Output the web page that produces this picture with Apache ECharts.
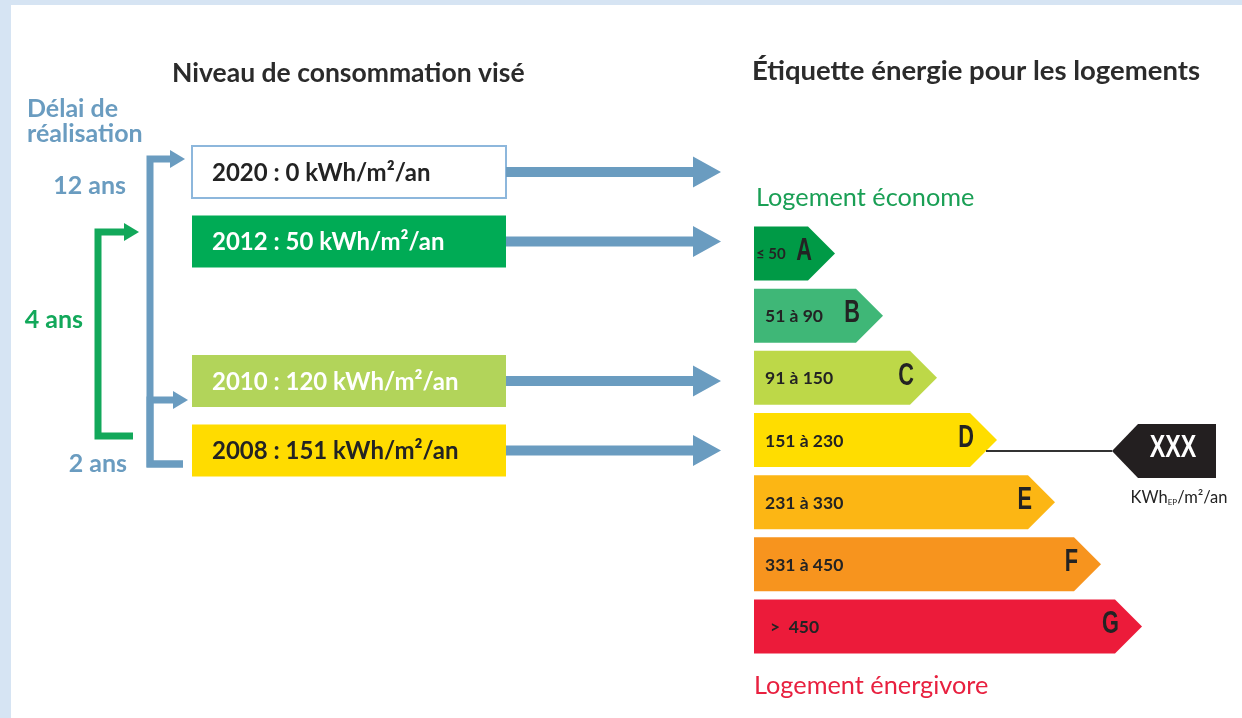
<!DOCTYPE html>
<html>
<head>
<meta charset="utf-8">
<script src="https://cdn.jsdelivr.net/npm/echarts@6/dist/echarts.min.js"></script>
<style>
  html, body { margin: 0; padding: 0; background: #d6e4f3; }
  #chart { width: 1242px; height: 718px; }
</style>
</head>
<body>
<div id="chart"></div>
<script>
// left side: target level per deadline ("" is an empty spacer row)
var rows = ["2020", "2012", "", "2010", "2008"]
var targetYears = ["2020", "2012", "2010", "2008"]
var targets = [0, 50, 120, 151]

// delay from 2008 to each target
var delayStart = "2008"
var delayTargets = ["2010", "2012", "2020"]
var delayYears = [2, 4, 12]

// right side: energy label classes
var classes = ["A", "B", "C", "D", "E", "F", "G"]
var ranges = ["≤ 50", "51 à 90", "91 à 150", "151 à 230", "231 à 330", "331 à 450", ">  450"]
var bandLength = [81, 129, 183, 243, 301, 347, 388]
var currentClass = "D"
var currentValue = "XXX"

var BLUE = "#6a9cc0"
var GREEN = "#12a85a"
var boxFill = ["#ffffff", "#00ab55", "#b2d45a", "#ffdc00"]
var boxText = ["#232323", "#ffffff", "#ffffff", "#232323"]
var bandColor = ["#009a46", "#3fb777", "#bdd848", "#ffdd00", "#fcb614", "#f7941e", "#ec1b3a"]
var rangePad = [2, 11, 11, 11, 11, 11, 16]
var narrow = "'Liberation Sans', Arial, sans-serif"

var delayStyle = [
  { lane: 150, color: BLUE, arrowDy: 19, stubX: 183, stubDy: 13.5, tipX: 188, label: "start", labelX: 127, labelDy: 13 },
  { lane: 98, color: GREEN, arrowDy: -9.6, stubX: 133, stubDy: -14.5, tipX: 139, label: "mid", labelX: 83, labelDy: -26 },
  { lane: 150, color: BLUE, arrowDy: -13, stubX: 183, stubDy: 13.5, tipX: 185, label: "end", labelX: 126, labelDy: 14 }
]

function txt(x, y, text, fill, size, weight, family, align, sx) {
  return {
    type: "text", x: x, y: y, scaleX: sx || 1,
    style: {
      text: text, fill: fill, fontSize: size, fontWeight: weight || "normal",
      fontFamily: family || "Lato", align: align || "left", textAlign: align || "left",
      verticalAlign: "middle", textVerticalAlign: "middle"
    }
  }
}

function renderBox(params, api) {
  var i = params.dataIndex
  var p0 = api.coord([192, api.value(1)])
  var p1 = api.coord([506, api.value(1)])
  var tip = api.coord([721, api.value(1)])[0]
  var cy = p0[1]
  var h = 52
  return {
    type: "group",
    children: [
      {
        type: "rect",
        shape: { x: p0[0], y: cy - h / 2, width: p1[0] - p0[0], height: h },
        style: { fill: boxFill[i], stroke: i === 0 ? "#8db7dc" : null, lineWidth: 2 }
      },
      txt(p0[0] + 20, cy + 1, targetYears[i] + " : " + targets[i] + " kWh/m²/an", boxText[i], 24, "bold"),
      {
        type: "polygon",
        shape: {
          points: [[p1[0], cy - 5], [tip - 28, cy - 5], [tip - 28, cy - 15.5], [tip, cy],
                   [tip - 28, cy + 15.5], [tip - 28, cy + 5], [p1[0], cy + 5]]
        },
        style: { fill: BLUE }
      }
    ]
  }
}

function renderDelay(params, api) {
  var i = params.dataIndex
  var s = delayStyle[i]
  var ys = api.coord([0, rows.indexOf(delayStart)])[1]
  var yt = api.coord([0, api.value(1)])[1]
  var ya = yt + s.arrowDy
  var yb = ys + s.stubDy
  var head = s.tipX - 14
  var ly = s.label === "start" ? ys + s.labelDy : s.label === "end" ? yt + s.labelDy : (ys + yt) / 2 + s.labelDy
  return {
    type: "group",
    children: [
      {
        type: "polyline",
        shape: { points: [[s.stubX, yb], [s.lane, yb], [s.lane, ya], [head, ya]] },
        style: { stroke: s.color, lineWidth: 7, fill: null, lineJoin: "miter", lineCap: "butt" }
      },
      {
        type: "polygon",
        shape: { points: [[head - 1, ya - 9], [s.tipX, ya], [head - 1, ya + 9]] },
        style: { fill: s.color }
      },
      txt(s.labelX, ly, delayYears[i] + " ans", s.color, 25, "bold", "Lato", "right")
    ]
  }
}

function renderBand(params, api) {
  var i = params.dataIndex
  var start = api.coord([0, i])
  var tip = api.coord([api.value(0), i])
  var cy = start[1]
  var h = 54
  var xb = tip[0] - h / 2
  var children = [
    {
      type: "polygon",
      shape: { points: [[start[0], cy - h / 2], [xb, cy - h / 2], [tip[0], cy], [xb, cy + h / 2], [start[0], cy + h / 2]] },
      style: { fill: bandColor[i] }
    },
    txt(start[0] + rangePad[i], cy + 1, ranges[i], "#232323", i === 0 ? 15 : 17.5, "bold"),
    txt(tip[0] - 23, cy - 2, classes[i], "#232323", 32, "bold", narrow, "right", 0.68)
  ]
  if (classes[i] === currentClass) {
    var ty = cy + 11
    var t0 = api.coord([358, i])[0]
    var t1 = api.coord([384, i])[0]
    var t2 = api.coord([462, i])[0]
    children.push(
      { type: "line", shape: { x1: tip[0] - 11, y1: ty, x2: t0, y2: ty }, style: { stroke: "#333333", lineWidth: 2 } },
      {
        type: "polygon",
        shape: { points: [[t0, ty], [t1, ty - 27], [t2, ty - 27], [t2, ty + 27], [t1, ty + 27]] },
        style: { fill: "#231f20" }
      },
      txt((t1 + t2) / 2 - 4, ty - 3, currentValue, "#ffffff", 31, "bold", narrow, "center", 0.75),
      {
        type: "text", x: (t1 + t2) / 2 + 2, y: ty + 47,
        style: {
          text: "{a|KWh}{b|EP}{a|/m²/an}", align: "center", textAlign: "center",
          verticalAlign: "middle", textVerticalAlign: "middle",
          rich: {
            a: { fontSize: 16.5, fontFamily: "Lato", fill: "#232323", color: "#232323" },
            b: { fontSize: 8, fontFamily: "Lato", fill: "#232323", color: "#232323", padding: [8, 0, 0, 0] }
          }
        }
      }
    )
  }
  return { type: "group", children: children }
}

var chart = echarts.init(document.getElementById("chart"))

var option = {
  backgroundColor: "#d6e4f3",
  animation: false,
  graphic: [
    { type: "rect", shape: { x: 11, y: 5, width: 1231, height: 713 }, style: { fill: "#ffffff" }, z: -10 }
  ],
  title: [
    { text: "Niveau de consommation visé", left: 172, top: 58, padding: 0,
      textStyle: { fontFamily: "Lato", fontSize: 26.5, fontWeight: "bold", color: "#2b2b2b", lineHeight: 30 } },
    { text: "Étiquette énergie pour les logements", left: 752, top: 56, padding: 0,
      textStyle: { fontFamily: "Lato", fontSize: 27.5, fontWeight: "bold", color: "#2b2b2b", lineHeight: 30 } },
    { text: "Délai de\nréalisation", left: 27, top: 96, padding: 0,
      textStyle: { fontFamily: "Lato", fontSize: 25, fontWeight: "bold", color: BLUE, lineHeight: 25 } },
    { text: "Logement économe", left: 756, top: 184, padding: 0,
      textStyle: { fontFamily: "Lato", fontSize: 25.3, fontWeight: "normal", color: "#1a9f55", lineHeight: 28 } },
    { text: "Logement énergivore", left: 754, top: 672, padding: 0,
      textStyle: { fontFamily: "Lato", fontSize: 25.3, fontWeight: "normal", color: "#e8203f", lineHeight: 28 } }
  ],
  grid: [
    { left: 0, top: 137.1, width: 721, height: 348.3 },
    { left: 754, top: 222.4, width: 470, height: 435.2 }
  ],
  xAxis: [
    { type: "value", gridIndex: 0, min: 0, max: 721, show: false },
    { type: "value", gridIndex: 1, min: 0, max: 470, show: false }
  ],
  yAxis: [
    { type: "category", gridIndex: 0, data: rows, inverse: true, show: false },
    { type: "category", gridIndex: 1, data: classes, inverse: true, show: false }
  ],
  series: [
    {
      type: "custom", name: "delais", xAxisIndex: 0, yAxisIndex: 0, silent: true,
      renderItem: renderDelay,
      data: delayTargets.map(function (y) { return [0, rows.indexOf(y)] })
    },
    {
      type: "custom", name: "objectifs", xAxisIndex: 0, yAxisIndex: 0, silent: true,
      renderItem: renderBox,
      data: targetYears.map(function (y) { return [0, rows.indexOf(y)] })
    },
    {
      type: "custom", name: "etiquette", xAxisIndex: 1, yAxisIndex: 1, silent: true,
      renderItem: renderBand,
      data: bandLength.map(function (v, i) { return [v, i] })
    }
  ]
}

chart.setOption(option)
</script>
</body>
</html>
